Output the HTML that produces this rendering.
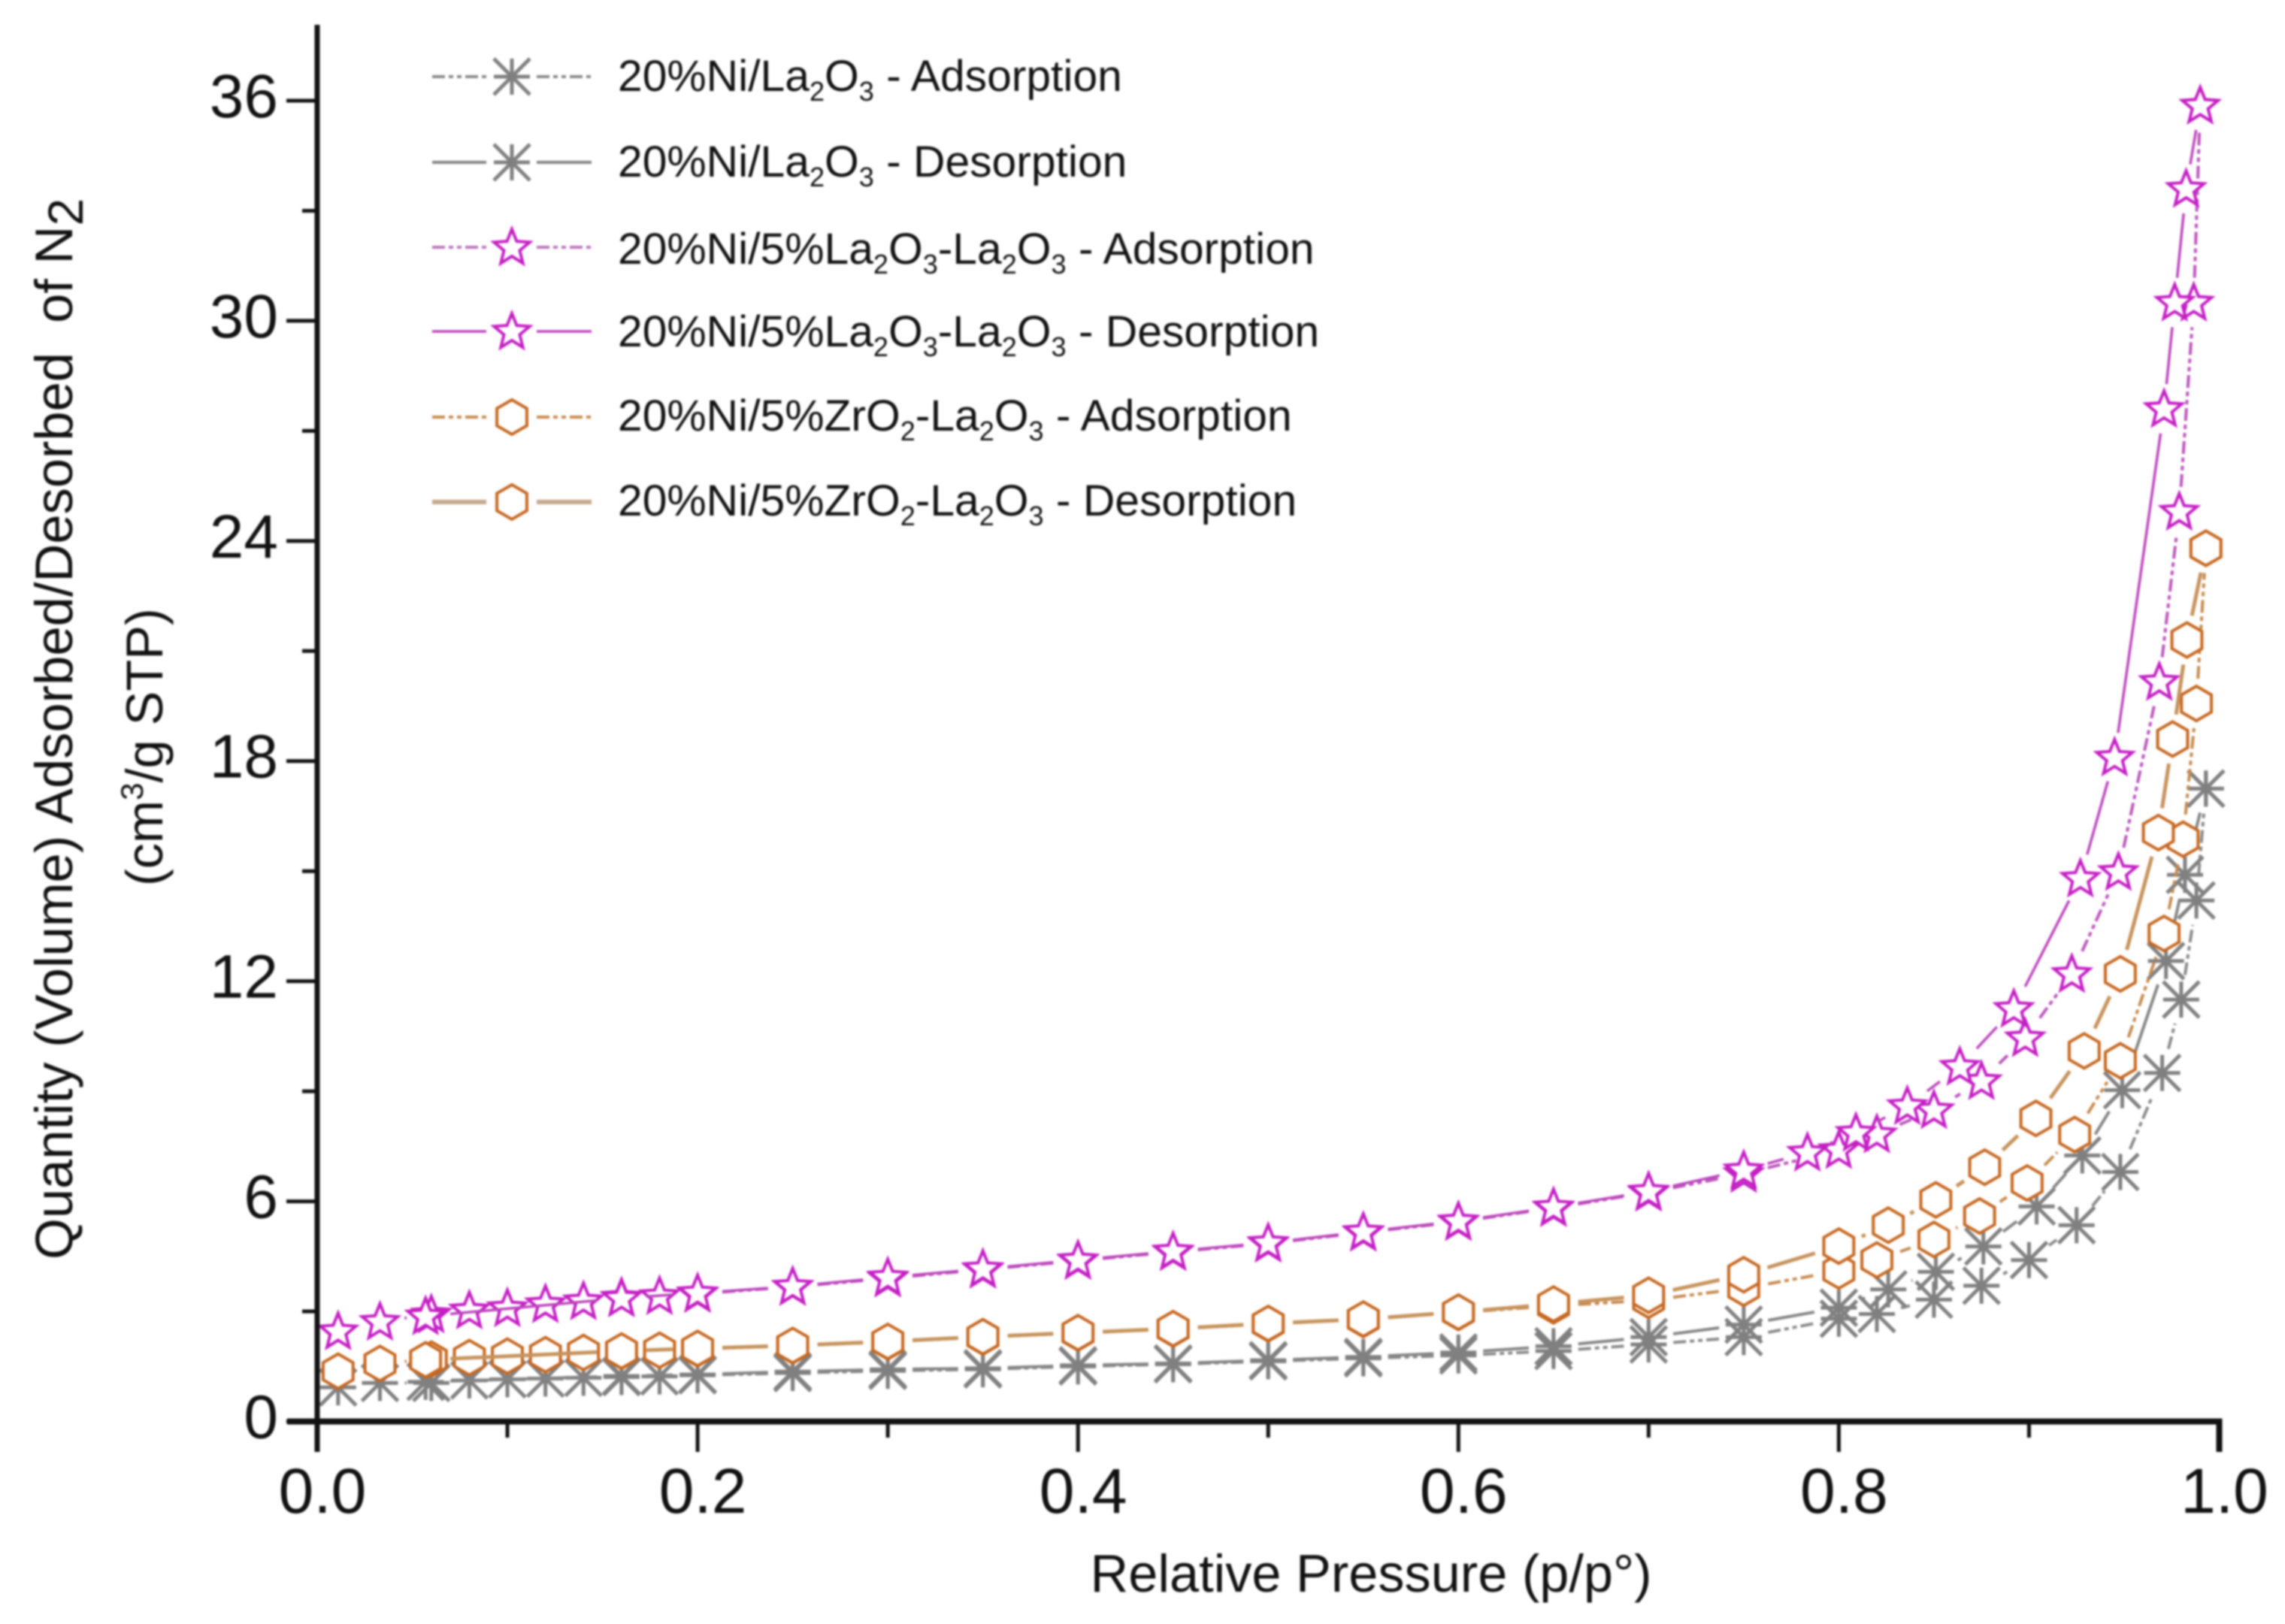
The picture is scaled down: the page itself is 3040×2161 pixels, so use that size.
<!DOCTYPE html>
<html lang="en">
<head>
<meta charset="utf-8">
<title>N2 adsorption-desorption isotherms</title>
<style>
html,body{margin:0;padding:0;background:#fff;width:3040px;height:2161px;overflow:hidden}
svg{display:block;filter:blur(1.2px)}
text{font-family:"Liberation Sans",Arial,sans-serif;fill:#111}
</style>
</head>
<body>
<svg id="chart" xmlns="http://www.w3.org/2000/svg" width="3040" height="2161" viewBox="0 0 3040 2161">
  <rect width="3040" height="2161" fill="#fff"/>
  <g id="plot"></g>
  <g id="axes"></g>
  <text x="1824" y="2118" font-size="70.3" text-anchor="middle">Relative Pressure (p/p°)</text>
  <text transform="translate(96,1676) rotate(-90)" font-size="70.5" xml:space="preserve">Quantity (Volume) Adsorbed/Desorbed  of N<tspan font-size="66" dy="14">2</tspan></text>
  <text transform="translate(216,1179) rotate(-90)" font-size="68.5">(cm<tspan font-size="42" dy="-26">3</tspan><tspan dy="26">/g STP)</tspan></text>
  <g id="legend">
    <text x="822" y="121" font-size="58.8">20%Ni/La<tspan font-size="36" dy="13">2</tspan><tspan dy="-13">O</tspan><tspan font-size="36" dy="13">3</tspan><tspan dy="-13"> - Adsorption</tspan></text>
    <text x="822" y="235" font-size="58.8">20%Ni/La<tspan font-size="36" dy="13">2</tspan><tspan dy="-13">O</tspan><tspan font-size="36" dy="13">3</tspan><tspan dy="-13"> - Desorption</tspan></text>
    <text x="822" y="351" font-size="58.8">20%Ni/5%La<tspan font-size="36" dy="13">2</tspan><tspan dy="-13">O</tspan><tspan font-size="36" dy="13">3</tspan><tspan dy="-13">-La</tspan><tspan font-size="36" dy="13">2</tspan><tspan dy="-13">O</tspan><tspan font-size="36" dy="13">3</tspan><tspan dy="-13"> - Adsorption</tspan></text>
    <text x="822" y="461" font-size="58.8">20%Ni/5%La<tspan font-size="36" dy="13">2</tspan><tspan dy="-13">O</tspan><tspan font-size="36" dy="13">3</tspan><tspan dy="-13">-La</tspan><tspan font-size="36" dy="13">2</tspan><tspan dy="-13">O</tspan><tspan font-size="36" dy="13">3</tspan><tspan dy="-13"> - Desorption</tspan></text>
    <text x="822" y="573" font-size="58.8">20%Ni/5%ZrO<tspan font-size="36" dy="13">2</tspan><tspan dy="-13">-La</tspan><tspan font-size="36" dy="13">2</tspan><tspan dy="-13">O</tspan><tspan font-size="36" dy="13">3</tspan><tspan dy="-13"> - Adsorption</tspan></text>
    <text x="822" y="686" font-size="58.8">20%Ni/5%ZrO<tspan font-size="36" dy="13">2</tspan><tspan dy="-13">-La</tspan><tspan font-size="36" dy="13">2</tspan><tspan dy="-13">O</tspan><tspan font-size="36" dy="13">3</tspan><tspan dy="-13"> - Desorption</tspan></text>
  </g>
</svg>
<script>
const xMajorTicks = [0, 0.2, 0.4, 0.6, 0.8, 1.0];
const xMinorTicks = [0.1, 0.3, 0.5, 0.7, 0.9];
const xTickLabels = ['0.0', '0.2', '0.4', '0.6', '0.8', '1.0'];
const yMajorTicks = [0, 6, 12, 18, 24, 30, 36];
const yMinorTicks = [3, 9, 15, 21, 27, 33];
const yTickLabels = ['0', '6', '12', '18', '24', '30', '36'];

const niLaAdsX = [0.011,0.033,0.06,0.08,0.1,0.12,0.14,0.16,0.18,0.2,0.25,0.3,0.35,0.4,0.45,0.5,0.55,0.6,0.65,0.7,0.75,0.8,0.82,0.85,0.875,0.9,0.925,0.948,0.97,0.98,0.988,0.993];
const niLaAdsY = [0.93,1.05,1.05,1.12,1.15,1.17,1.19,1.21,1.23,1.26,1.32,1.38,1.42,1.5,1.56,1.64,1.72,1.8,1.92,2.1,2.3,2.8,2.93,3.32,3.7,4.4,5.35,6.8,9.5,11.5,14.2,17.25];
const niLaDesX = [0.993,0.982,0.972,0.949,0.928,0.904,0.876,0.851,0.826,0.8,0.75,0.7,0.65,0.6,0.55,0.5,0.45,0.4,0.35,0.3,0.25,0.2,0.16,0.057];
const niLaDesY = [17.25,14.9,12.55,9.03,7.25,5.86,4.77,4.08,3.6,3.1,2.64,2.3,2.05,1.88,1.76,1.67,1.58,1.53,1.45,1.42,1.36,1.28,1.24,1.08];

const niLa5AdsX = [0.011,0.033,0.06,0.08,0.1,0.12,0.14,0.16,0.18,0.2,0.25,0.3,0.35,0.4,0.45,0.5,0.55,0.6,0.65,0.7,0.75,0.8,0.82,0.85,0.875,0.898,0.9225,0.947,0.9685,0.979,0.9866,0.99];
const niLa5AdsY = [2.46,2.72,2.92,3.03,3.09,3.2,3.28,3.38,3.42,3.48,3.67,3.9,4.14,4.38,4.62,4.85,5.15,5.44,5.82,6.24,6.75,7.4,7.83,8.49,9.28,10.45,12.2,14.98,20.16,24.8,30.5,35.87];
const niLa5DesX = [0.99,0.9826,0.9766,0.971,0.945,0.927,0.892,0.8636,0.836,0.809,0.7835,0.75,0.7,0.65,0.6,0.55,0.5,0.45,0.4,0.35,0.3,0.25,0.2,0.16,0.057];
const niLa5DesY = [35.87,33.6,30.5,27.6,18.1,14.8,11.25,9.67,8.6,7.87,7.33,6.85,6.27,5.84,5.46,5.17,4.87,4.64,4.4,4.16,3.93,3.68,3.5,3.36,2.87];

const niZrAdsX = [0.011,0.033,0.06,0.08,0.1,0.12,0.14,0.16,0.18,0.2,0.25,0.3,0.35,0.4,0.45,0.5,0.55,0.6,0.65,0.7,0.75,0.8,0.82,0.85,0.874,0.899,0.924,0.948,0.971,0.981,0.988,0.993];
const niZrAdsY = [1.37,1.58,1.7,1.74,1.78,1.82,1.88,1.91,1.94,1.98,2.06,2.17,2.3,2.41,2.52,2.66,2.78,2.97,3.15,3.3,3.63,4.1,4.4,4.96,5.6,6.5,7.82,9.83,13.3,15.87,19.57,23.8];
const niZrDesX = [0.993,0.983,0.9755,0.968,0.948,0.929,0.9036,0.8767,0.851,0.826,0.8,0.75,0.7,0.65,0.6,0.55,0.5,0.45,0.4,0.35,0.3,0.25,0.2,0.16,0.057];
const niZrDesY = [23.8,21.3,18.6,16.05,12.2,10.1,8.26,6.93,6.04,5.35,4.78,4.0,3.44,3.2,2.98,2.79,2.67,2.53,2.42,2.31,2.18,2.07,1.99,1.92,1.68];

const NS = 'http://www.w3.org/2000/svg';
const DASH_DOT_DOT = '17 5 6 5 6 5';
const MARKER_GAP = 33;

function xScale(v) { return 422 + v * 2530.5; }
function yScale(v) { return 1891.5 - v * 48.82; }

function make(tag, attrs, parent) {
  const node = document.createElementNS(NS, tag);
  for (const key in attrs) node.setAttribute(key, attrs[key]);
  parent.appendChild(node);
  return node;
}

function regularPoints(cx, cy, radii, count) {
  const pts = [];
  for (let i = 0; i < count; i++) {
    const angle = -Math.PI / 2 + i * 2 * Math.PI / count;
    const r = radii[i % radii.length];
    pts.push((cx + r * Math.cos(angle)).toFixed(2) + ',' + (cy + r * Math.sin(angle)).toFixed(2));
  }
  return pts.join(' ');
}

function drawMarker(kind, cx, cy, parent, baseName) {
  const group = make('g', {}, parent);
  
  
  if (kind === 'asterisk') {
    const r = 24;
    const spokes = [[0, 1], [1, 0], [1, 1], [1, -1]];
    spokes.forEach(function (d) {
      make('line', { x1: cx - r * d[0], y1: cy - r * d[1], x2: cx + r * d[0], y2: cy + r * d[1], stroke: '#808080', 'stroke-width': 5 }, group);
    });
  } else if (kind === 'star') {
    make('polygon', { points: regularPoints(cx, cy + 1, [25, 11], 10), fill: '#fff', stroke: '#c41fc4', 'stroke-width': 4 }, group);
  } else {
    make('polygon', { points: regularPoints(cx, cy, [23], 6), fill: '#fff', stroke: '#c6671f', 'stroke-width': 4 }, group);
  }
}

const seriesList = [
  { name: 'ni-la-adsorption', xs: niLaAdsX, ys: niLaAdsY, marker: 'asterisk', color: '#8a8a8a', width: 4, legendWidth: 4, dash: DASH_DOT_DOT, legendColor: '#8a8a8a', legendY: 102 },
  { name: 'ni-la-desorption', xs: niLaDesX, ys: niLaDesY, marker: 'asterisk', color: '#858585', width: 4, legendWidth: 4, dash: null, legendColor: '#858585', legendY: 216 },
  { name: 'ni-5la-adsorption', xs: niLa5AdsX, ys: niLa5AdsY, marker: 'star', color: '#bb55bb', width: 4, legendWidth: 4, dash: DASH_DOT_DOT, legendColor: '#bb77bb', legendY: 329 },
  { name: 'ni-5la-desorption', xs: niLa5DesX, ys: niLa5DesY, marker: 'star', color: '#bb44bb', width: 3.5, legendWidth: 3.5, dash: null, legendColor: '#bb44bb', legendY: 441 },
  { name: 'ni-zr-adsorption', xs: niZrAdsX, ys: niZrAdsY, marker: 'hexagon', color: '#c68a4e', width: 4, legendWidth: 4, dash: DASH_DOT_DOT, legendColor: '#c68a4e', legendY: 555 },
  { name: 'ni-zr-desorption', xs: niZrDesX, ys: niZrDesY, marker: 'hexagon', color: '#c6935c', width: 5, legendWidth: 6, dash: null, legendColor: '#c4a88c', legendY: 668 }
];

const plot = document.getElementById('plot');
seriesList.forEach(function (s) {
  const group = make('g', {}, plot);
  
  
  for (let i = 0; i + 1 < s.xs.length; i++) {
    const x1 = xScale(s.xs[i]), y1 = yScale(s.ys[i]);
    const x2 = xScale(s.xs[i + 1]), y2 = yScale(s.ys[i + 1]);
    const len = Math.hypot(x2 - x1, y2 - y1);
    if (len <= MARKER_GAP * 2) continue;
    const ux = (x2 - x1) / len, uy = (y2 - y1) / len;
    const seg = make('line', {
      x1: x1 + ux * MARKER_GAP, y1: y1 + uy * MARKER_GAP,
      x2: x2 - ux * MARKER_GAP, y2: y2 - uy * MARKER_GAP,
      stroke: s.color, 'stroke-width': s.width
    }, group);
    if (s.dash) seg.setAttribute('stroke-dasharray', s.dash);
    
    
  }
  for (let i = 0; i < s.xs.length; i++) {
    drawMarker(s.marker, xScale(s.xs[i]), yScale(s.ys[i]), group, s.name + '-point');
  }
});

const axes = document.getElementById('axes');
const yAxisLine = make('line', { x1: xScale(0), y1: 33, x2: xScale(0), y2: 1932, stroke: '#111', 'stroke-width': 7 }, axes);


const xAxisLine = make('line', { x1: 382, y1: yScale(0), x2: xScale(1) + 4, y2: yScale(0), stroke: '#111', 'stroke-width': 8 }, axes);



xMajorTicks.forEach(function (v, i) {
  const tickWidth = i === xMajorTicks.length - 1 ? 8 : 5;
  const tick = make('line', { x1: xScale(v), y1: yScale(0), x2: xScale(v), y2: 1932, stroke: '#111', 'stroke-width': tickWidth }, axes);
  
  
  const label = make('text', { x: xScale(v) + 7, y: 2013, 'font-size': 84, 'text-anchor': 'middle' }, axes);
  label.textContent = xTickLabels[i];
  
  
});
xMinorTicks.forEach(function (v) {
  const tick = make('line', { x1: xScale(v), y1: yScale(0), x2: xScale(v), y2: 1913, stroke: '#111', 'stroke-width': 5 }, axes);
  
  
});
yMajorTicks.forEach(function (v, i) {
  const tick = make('line', { x1: 381, y1: yScale(v), x2: xScale(0), y2: yScale(v), stroke: '#111', 'stroke-width': 5 }, axes);
  
  
  const label = make('text', { x: 370, y: yScale(v) + 22, 'font-size': 82, 'text-anchor': 'end' }, axes);
  label.textContent = yTickLabels[i];
  
  
});
yMinorTicks.forEach(function (v) {
  const tick = make('line', { x1: 402, y1: yScale(v), x2: xScale(0), y2: yScale(v), stroke: '#111', 'stroke-width': 5 }, axes);
  
  
});

const legend = document.getElementById('legend');
seriesList.forEach(function (s) {
  [[575, 647], [714, 787]].forEach(function (span) {
    const sample = make('line', { x1: span[0], y1: s.legendY, x2: span[1], y2: s.legendY, stroke: s.legendColor, 'stroke-width': s.legendWidth }, legend);
    if (s.dash) sample.setAttribute('stroke-dasharray', s.dash);
    
    
  });
  drawMarker(s.marker, 681, s.legendY, legend, 'legend-marker-' + s.name);
});
</script>
</body>
</html>
